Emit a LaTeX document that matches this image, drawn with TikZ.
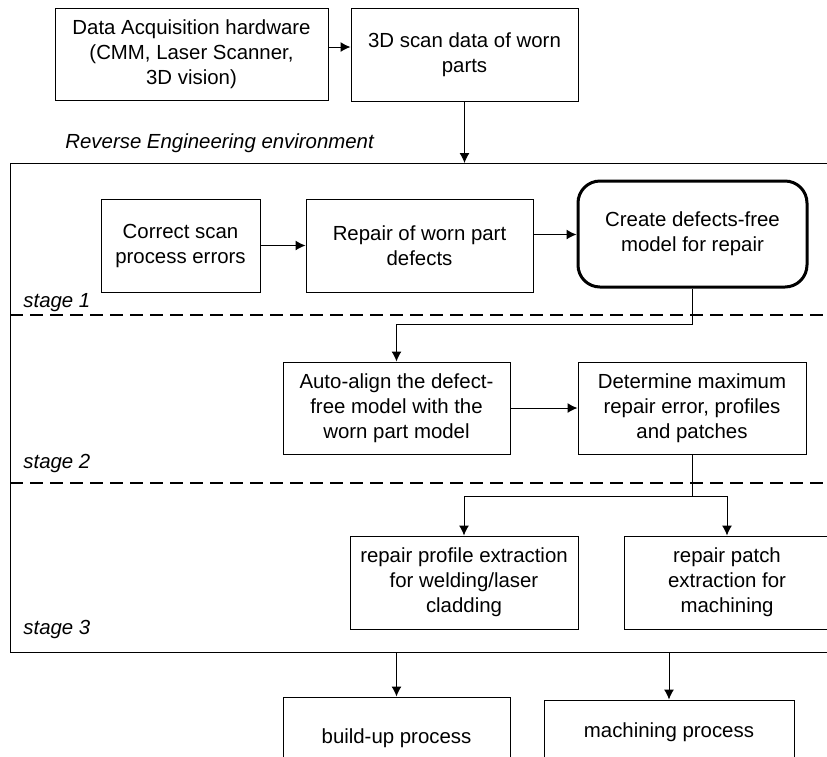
\documentclass[tikz,border=0pt]{standalone}
\usepackage{fontspec}
\setmainfont{Liberation Sans}
\usetikzlibrary{calc}
\usetikzlibrary{arrows.meta}

\begin{document}
\begin{tikzpicture}[x=0.5pt, y=-0.5pt,
    txt/.style={font=\fontsize{10.2}{12.5}\selectfont},
    blk/.style={txt, draw, line width=0.5pt, align=center, inner sep=0pt},
    arr/.style={line width=0.5pt, -{Latex[length=5pt,width=5pt]}},
    stagesep/.style={line width=0.8pt, dash pattern=on 6.5pt off 3.5pt},
    lbl/.style={txt, font=\fontsize{10.2}{12.5}\selectfont\itshape, anchor=west, inner sep=0pt}]
    \useasboundingbox (0, 0) rectangle (827, 757);
    \clip (0, 0) rectangle (827, 757);

    \coordinate (envNW) at (10, 163);
    \coordinate (envSE) at (845, 652);

    % input side
    \node [blk, minimum width=136.5pt, minimum height=46pt] (acq) at (191.5, 54)
        {Data Acquisition hardware\\(CMM, Laser Scanner,\\3D vision)};
    \node [blk, minimum width=113.5pt, minimum height=46.5pt] (scan) at (464.5, 54.5)
        {3D scan data of worn\\parts};
    \node [lbl] (renv) at (65, 143) {Reverse Engineering environment};

    % environment and stage separators
    \draw [line width=0.5pt] (envNW) rectangle (envSE);
    \draw [stagesep] (10, 315) -- (845, 315);
    \draw [stagesep] (10, 483) -- (845, 483);
    \node [lbl] (st1) at (23, 303) {stage 1};
    \node [lbl] (st2) at (23, 463) {stage 2};
    \node [lbl] (st3) at (23, 629) {stage 3};

    % stage 1
    \node [blk, minimum width=79.5pt, minimum height=46.5pt] (correct) at (180.5, 245.5)
        {Correct scan\\process errors};
    \node [blk, minimum width=113.5pt, minimum height=46.5pt] (repair) at (419.5, 245.5)
        {Repair of worn part\\defects};
    \node [blk, line width=1.5pt, rounded corners=11pt, minimum width=114.5pt, minimum height=53pt] (create) at (692.5, 234)
        {Create defects-free\\model for repair};

    % stage 2
    \node [blk, minimum width=113.5pt, minimum height=46pt] (align) at (396.5, 408)
        {Auto-align the defect-\\free model with the\\worn part model};
    \node [blk, minimum width=114pt, minimum height=46pt] (determine) at (692, 408)
        {Determine maximum\\repair error, profiles\\and patches};

    % stage 3
    \node [blk, minimum width=114pt, minimum height=46.5pt] (profile) at (464, 582.5)
        {repair profile extraction\\for welding/laser\\cladding};
    \node [blk, minimum width=103pt, minimum height=46.5pt] (patch) at (727, 582.5)
        {repair patch\\extraction for\\machining};

    % processes
    \node [blk, minimum width=113.5pt, minimum height=41pt] (buildup) at (396.5, 738) {build-up process};
    \node [blk, minimum width=125pt, minimum height=32pt] (machining) at (669, 732) {machining process};

    \draw [arr] ([yshift=3.5pt]acq.east) -- ([yshift=3.5pt]acq.east -| scan.west);
    \draw [arr] (scan.south) -- (scan.south |- envNW);
    \draw [arr] (correct.east) -- (repair.west);
    \draw [arr] ([yshift=5.5pt]repair.east) -- ([yshift=5.5pt]repair.east -| create.west);
    \draw [arr] (create.south) -- ++(0, 36) -| (align.north);
    \draw [arr] (align.east) -- (determine.west);
    \draw [arr] (determine.south) -- ++(0, 42) -| (profile.north);
    \draw [arr] (determine.south) -- ++(0, 42) -| (patch.north);
    \draw [arr] (buildup.north |- envSE) -- (buildup.north);
    \draw [arr] (machining.north |- envSE) -- (machining.north);
\end{tikzpicture}
\end{document}
